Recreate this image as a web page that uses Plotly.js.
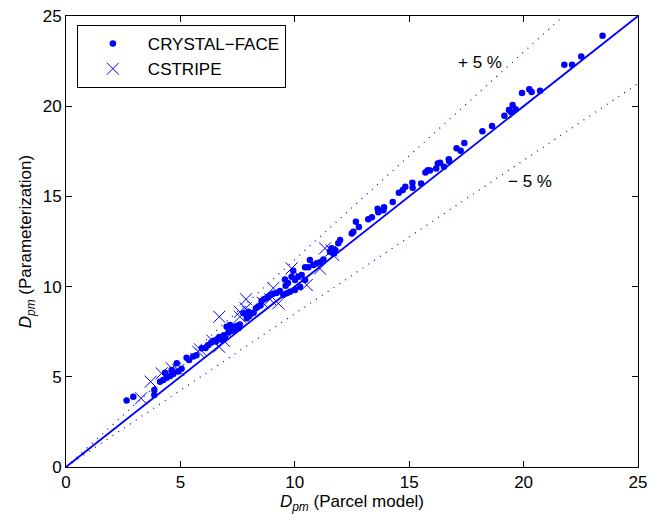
<!DOCTYPE html>
<html>
<head>
<meta charset="utf-8">
<script src="https://cdn.plot.ly/plotly-3.0.1.min.js"></script>
<style>html,body{margin:0;padding:0;background:#fff;overflow:hidden;}#chart{width:647px;height:520px;}</style>
</head>
<body>
<div id="chart"></div>
<script>
// CRYSTAL-FACE points (Parcel model, Parameterization)
const cfX = [2.65,2.94,3.86,3.86,4.11,4.25,4.40,4.55,4.69,4.84,4.62,4.33,4.90,5.05,5.27,5.38,5.56,5.70,5.93,6.10,6.22,6.35,6.45,6.55,6.62,6.70,6.80,6.90,6.95,7.02,7.17,7.31,7.46,7.10,7.25,7.40,7.55,7.60,7.75,7.97,7.90,8.00,8.10,8.20,8.30,8.40,8.50,8.55,8.65,8.75,8.85,8.95,9.05,9.20,9.35,9.50,9.65,9.79,10.01,9.60,9.70,9.57,9.86,10.01,10.15,10.30,10.45,10.23,9.93,10.45,10.59,10.66,10.81,10.96,11.10,11.25,11.54,11.61,11.68,11.76,11.90,11.98,12.49,12.56,12.67,12.80,13.21,13.37,13.62,13.65,13.87,13.90,14.28,14.55,14.72,14.83,15.14,15.15,15.52,15.71,15.81,15.91,16.18,16.25,16.35,16.52,16.73,16.75,17.07,17.25,17.41,18.20,18.62,19.16,19.36,19.45,19.52,19.65,19.93,20.25,20.35,20.72,21.78,22.12,22.52,23.45];
const cfY = [3.68,3.90,3.99,4.27,4.73,4.82,4.95,5.05,5.15,5.75,5.38,5.23,5.30,5.45,6.05,5.93,6.13,6.20,6.58,6.60,6.76,6.90,7.00,6.95,7.10,7.20,7.05,7.30,7.15,7.78,7.87,7.78,7.82,7.45,7.55,7.60,7.70,7.90,8.52,8.61,8.24,8.35,8.50,8.55,8.80,8.90,8.95,9.20,9.30,9.35,9.45,9.55,9.60,9.65,9.75,9.55,9.63,9.72,9.81,10.05,10.20,10.40,10.55,10.37,10.55,10.64,10.37,9.99,10.88,11.07,11.07,11.47,11.20,11.29,11.35,11.50,11.93,12.12,11.84,12.03,12.40,12.58,12.95,13.04,13.60,13.30,13.73,13.84,14.32,14.12,14.23,14.40,14.69,15.20,15.35,15.54,15.76,15.48,15.71,16.32,16.45,16.43,16.54,16.83,16.87,16.65,17.06,16.95,17.67,17.53,17.96,18.61,18.90,19.47,19.79,19.66,20.07,19.83,20.73,20.94,20.79,20.86,22.30,22.30,22.75,23.91];
// CSTRIPE points
const csX = [3.28,3.70,4.18,4.62,4.91,5.78,5.86,6.40,6.69,6.70,6.90,7.60,7.60,7.87,7.85,8.60,8.92,9.06,9.28,9.86,10.52,11.10,11.32,11.68,11.60];
const csY = [3.81,4.73,5.19,5.47,5.38,6.39,6.52,7.00,6.67,8.33,7.00,8.33,8.60,9.30,8.80,9.10,9.30,9.92,9.07,11.01,10.09,11.00,12.12,11.75,12.00];
// reference lines
const refX = [0, 25];
const oneToOneY = [0, 25];
const upperY = [0, 28.75];
const lowerY = [0, 21.25];
const tickVals = [0, 5, 10, 15, 20, 25];

const blue = '#0000ff';
const traces = [
  {x: refX, y: upperY, mode: 'lines', line: {color: blue, width: 1.2, dash: '1px,6px'}, showlegend: false, hoverinfo: 'skip'},
  {x: refX, y: lowerY, mode: 'lines', line: {color: blue, width: 1.2, dash: '1px,6px'}, showlegend: false, hoverinfo: 'skip'},
  {x: refX, y: oneToOneY, mode: 'lines', line: {color: blue, width: 1.8}, showlegend: false, hoverinfo: 'skip'},
  {x: cfX, y: cfY, mode: 'markers', name: 'CRYSTAL\u2212FACE', marker: {color: blue, size: 6.5, symbol: 'circle'}, cliponaxis: false},
  {x: csX, y: csY, mode: 'markers', name: 'CSTRIPE', marker: {color: blue, size: 12, symbol: 'x-thin-open', line: {color: blue, width: 1}}, cliponaxis: false}
];

const fontFam = '"Liberation Sans", Arial, Helvetica, sans-serif';
const axisCommon = {
  range: [0, 25], tickvals: tickVals, ticks: 'inside', ticklen: 6, tickwidth: 1, tickcolor: '#000',
  showline: true, linecolor: '#000', linewidth: 1, mirror: 'ticks', showgrid: false, zeroline: false,
  tickfont: {family: fontFam, size: 17, color: '#000'}, fixedrange: true, ticklabeloverflow: 'allow'
};
const layout = {
  width: 647, height: 520,
  margin: {l: 66, r: 9, t: 16, b: 53},
  paper_bgcolor: '#fff', plot_bgcolor: '#fff',
  font: {family: fontFam, size: 17, color: '#000'},
  xaxis: Object.assign({}, axisCommon, {
    title: {text: '<i>D</i><sub><i>pm</i></sub> (Parcel model)', font: {family: fontFam, size: 17, color: '#000'}, standoff: 2}
  }),
  yaxis: Object.assign({}, axisCommon, {
    title: {text: '<i>D</i><sub><i>pm</i></sub> (Parameterization)', font: {family: fontFam, size: 17, color: '#000'}, standoff: 6}
  }),
  legend: {
    x: 0.019, y: 0.98, xanchor: 'left', yanchor: 'top',
    bordercolor: '#000', borderwidth: 1, bgcolor: '#fff',
    font: {family: fontFam, size: 17, color: '#000'},
    itemwidth: 60, tracegroupgap: 0
  },
  annotations: [
    {x: 18.1, y: 22.45, xref: 'x', yref: 'y', text: '+ 5 %', showarrow: false, font: {family: fontFam, size: 17, color: '#000'}},
    {x: 20.3, y: 15.8, xref: 'x', yref: 'y', text: '\u2212 5 %', showarrow: false, font: {family: fontFam, size: 17, color: '#000'}}
  ],
  showlegend: true
};
Plotly.newPlot('chart', traces, layout, {displayModeBar: false, staticPlot: true});
</script>
</body>
</html>
